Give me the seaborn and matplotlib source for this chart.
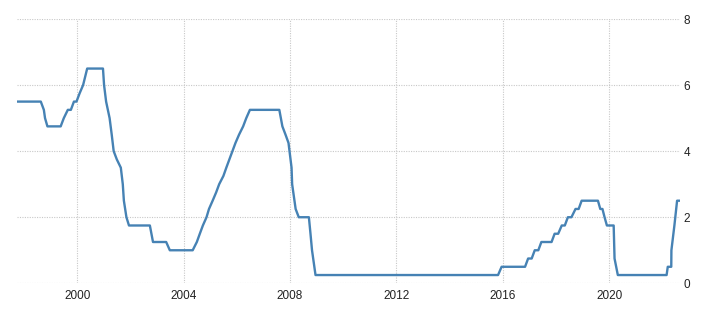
import matplotlib
matplotlib.use("Agg")
import matplotlib.pyplot as plt
import matplotlib.dates as mdates
import seaborn as sns
import pandas as pd

dates = [
    "1997-08-19", "1998-08-18", "1998-09-29", "1998-10-15", "1998-11-17",
    "1999-05-18", "1999-06-30", "1999-08-24", "1999-10-05", "1999-11-16",
    "1999-12-21", "2000-02-02", "2000-03-21", "2000-05-16", "2000-12-19",
    "2001-01-03", "2001-01-31", "2001-03-20", "2001-04-18", "2001-05-15",
    "2001-06-27", "2001-08-21", "2001-09-17", "2001-10-02", "2001-11-06",
    "2001-12-11", "2002-09-24", "2002-11-06", "2003-05-06", "2003-06-25",
    "2004-05-04", "2004-06-30", "2004-08-10", "2004-09-21", "2004-11-10",
    "2004-12-14", "2005-02-02", "2005-03-22", "2005-05-03", "2005-06-30",
    "2005-08-09", "2005-09-20", "2005-11-01", "2005-12-13", "2006-01-31",
    "2006-03-28", "2006-05-10", "2006-06-29", "2007-08-07", "2007-09-18",
    "2007-10-31", "2007-12-11", "2008-01-22", "2008-01-30", "2008-03-18",
    "2008-04-30", "2008-09-16", "2008-10-08", "2008-10-29", "2008-12-16",
    "2015-10-28", "2015-12-16", "2016-11-02", "2016-12-14", "2017-02-01",
    "2017-03-15", "2017-05-03", "2017-06-14", "2017-11-01", "2017-12-13",
    "2018-01-31", "2018-03-21", "2018-05-02", "2018-06-13", "2018-08-01",
    "2018-09-26", "2018-11-08", "2018-12-19", "2019-07-31", "2019-09-01",
    "2019-10-01", "2019-10-30", "2019-12-01", "2020-03-03", "2020-03-15",
    "2020-04-29", "2022-02-28", "2022-03-16", "2022-05-03", "2022-05-05",
    "2022-06-15", "2022-07-22", "2022-08-31",
]
rates = [
    5.50, 5.50, 5.25, 5.00, 4.75,
    4.75, 5.00, 5.25, 5.25, 5.50,
    5.50, 5.75, 6.00, 6.50, 6.50,
    6.00, 5.50, 5.00, 4.50, 4.00,
    3.75, 3.50, 3.00, 2.50, 2.00,
    1.75, 1.75, 1.25, 1.25, 1.00,
    1.00, 1.25, 1.50, 1.75, 2.00,
    2.25, 2.50, 2.75, 3.00, 3.25,
    3.50, 3.75, 4.00, 4.25, 4.50,
    4.75, 5.00, 5.25, 5.25, 4.75,
    4.50, 4.25, 3.50, 3.00, 2.25,
    2.00, 2.00, 1.50, 1.00, 0.25,
    0.25, 0.50, 0.50, 0.75, 0.75,
    1.00, 1.00, 1.25, 1.25, 1.50,
    1.50, 1.75, 1.75, 2.00, 2.00,
    2.25, 2.25, 2.50, 2.50, 2.25,
    2.25, 2.00, 1.75, 1.75, 0.75,
    0.25, 0.25, 0.50, 0.50, 1.00,
    1.75, 2.50, 2.50,
]
y_ticks = [0, 2, 4, 6, 8]
x_range = ["1997-09-21", "2022-08-31"]

df = pd.DataFrame({"date": pd.to_datetime(dates), "rate": rates})

sns.set_theme(style="white")
plt.rcParams["font.family"] = ["Liberation Sans", "DejaVu Sans"]

fig = plt.figure(figsize=(7.2, 3.16), dpi=100)
ax = fig.add_axes([16.7 / 720, 1 - 283.3 / 316, (680 - 16.7) / 720, (283.3 - 19) / 316])

sns.lineplot(data=df, x="date", y="rate", ax=ax, color="#4682b4",
             linewidth=1.7, zorder=3)

ax.set_xlim(pd.to_datetime(x_range[0]), pd.to_datetime(x_range[1]))
ax.set_ylim(y_ticks[0], y_ticks[-1])
ax.set_yticks(y_ticks)
ax.xaxis.set_major_locator(mdates.YearLocator(4))
ax.xaxis.set_major_formatter(mdates.DateFormatter("%Y"))

ax.yaxis.tick_right()
ax.tick_params(axis="y", length=0, pad=2.5, labelsize=8.5, labelcolor="#222222")
for lab in ax.get_yticklabels():
    lab.set_horizontalalignment("left")
ax.tick_params(axis="x", length=2.5, width=0.8, color="#cccccc", pad=2.5,
               labelsize=8.5, labelcolor="#222222")

ax.grid(True, which="major", axis="both", color="#c8c8c8",
        linestyle=(0, (1, 1.2)), linewidth=0.8, zorder=0)
for s in ax.spines.values():
    s.set_visible(False)
ax.set_xlabel("")
ax.set_ylabel("")

fig.savefig("out.png", dpi=100)
